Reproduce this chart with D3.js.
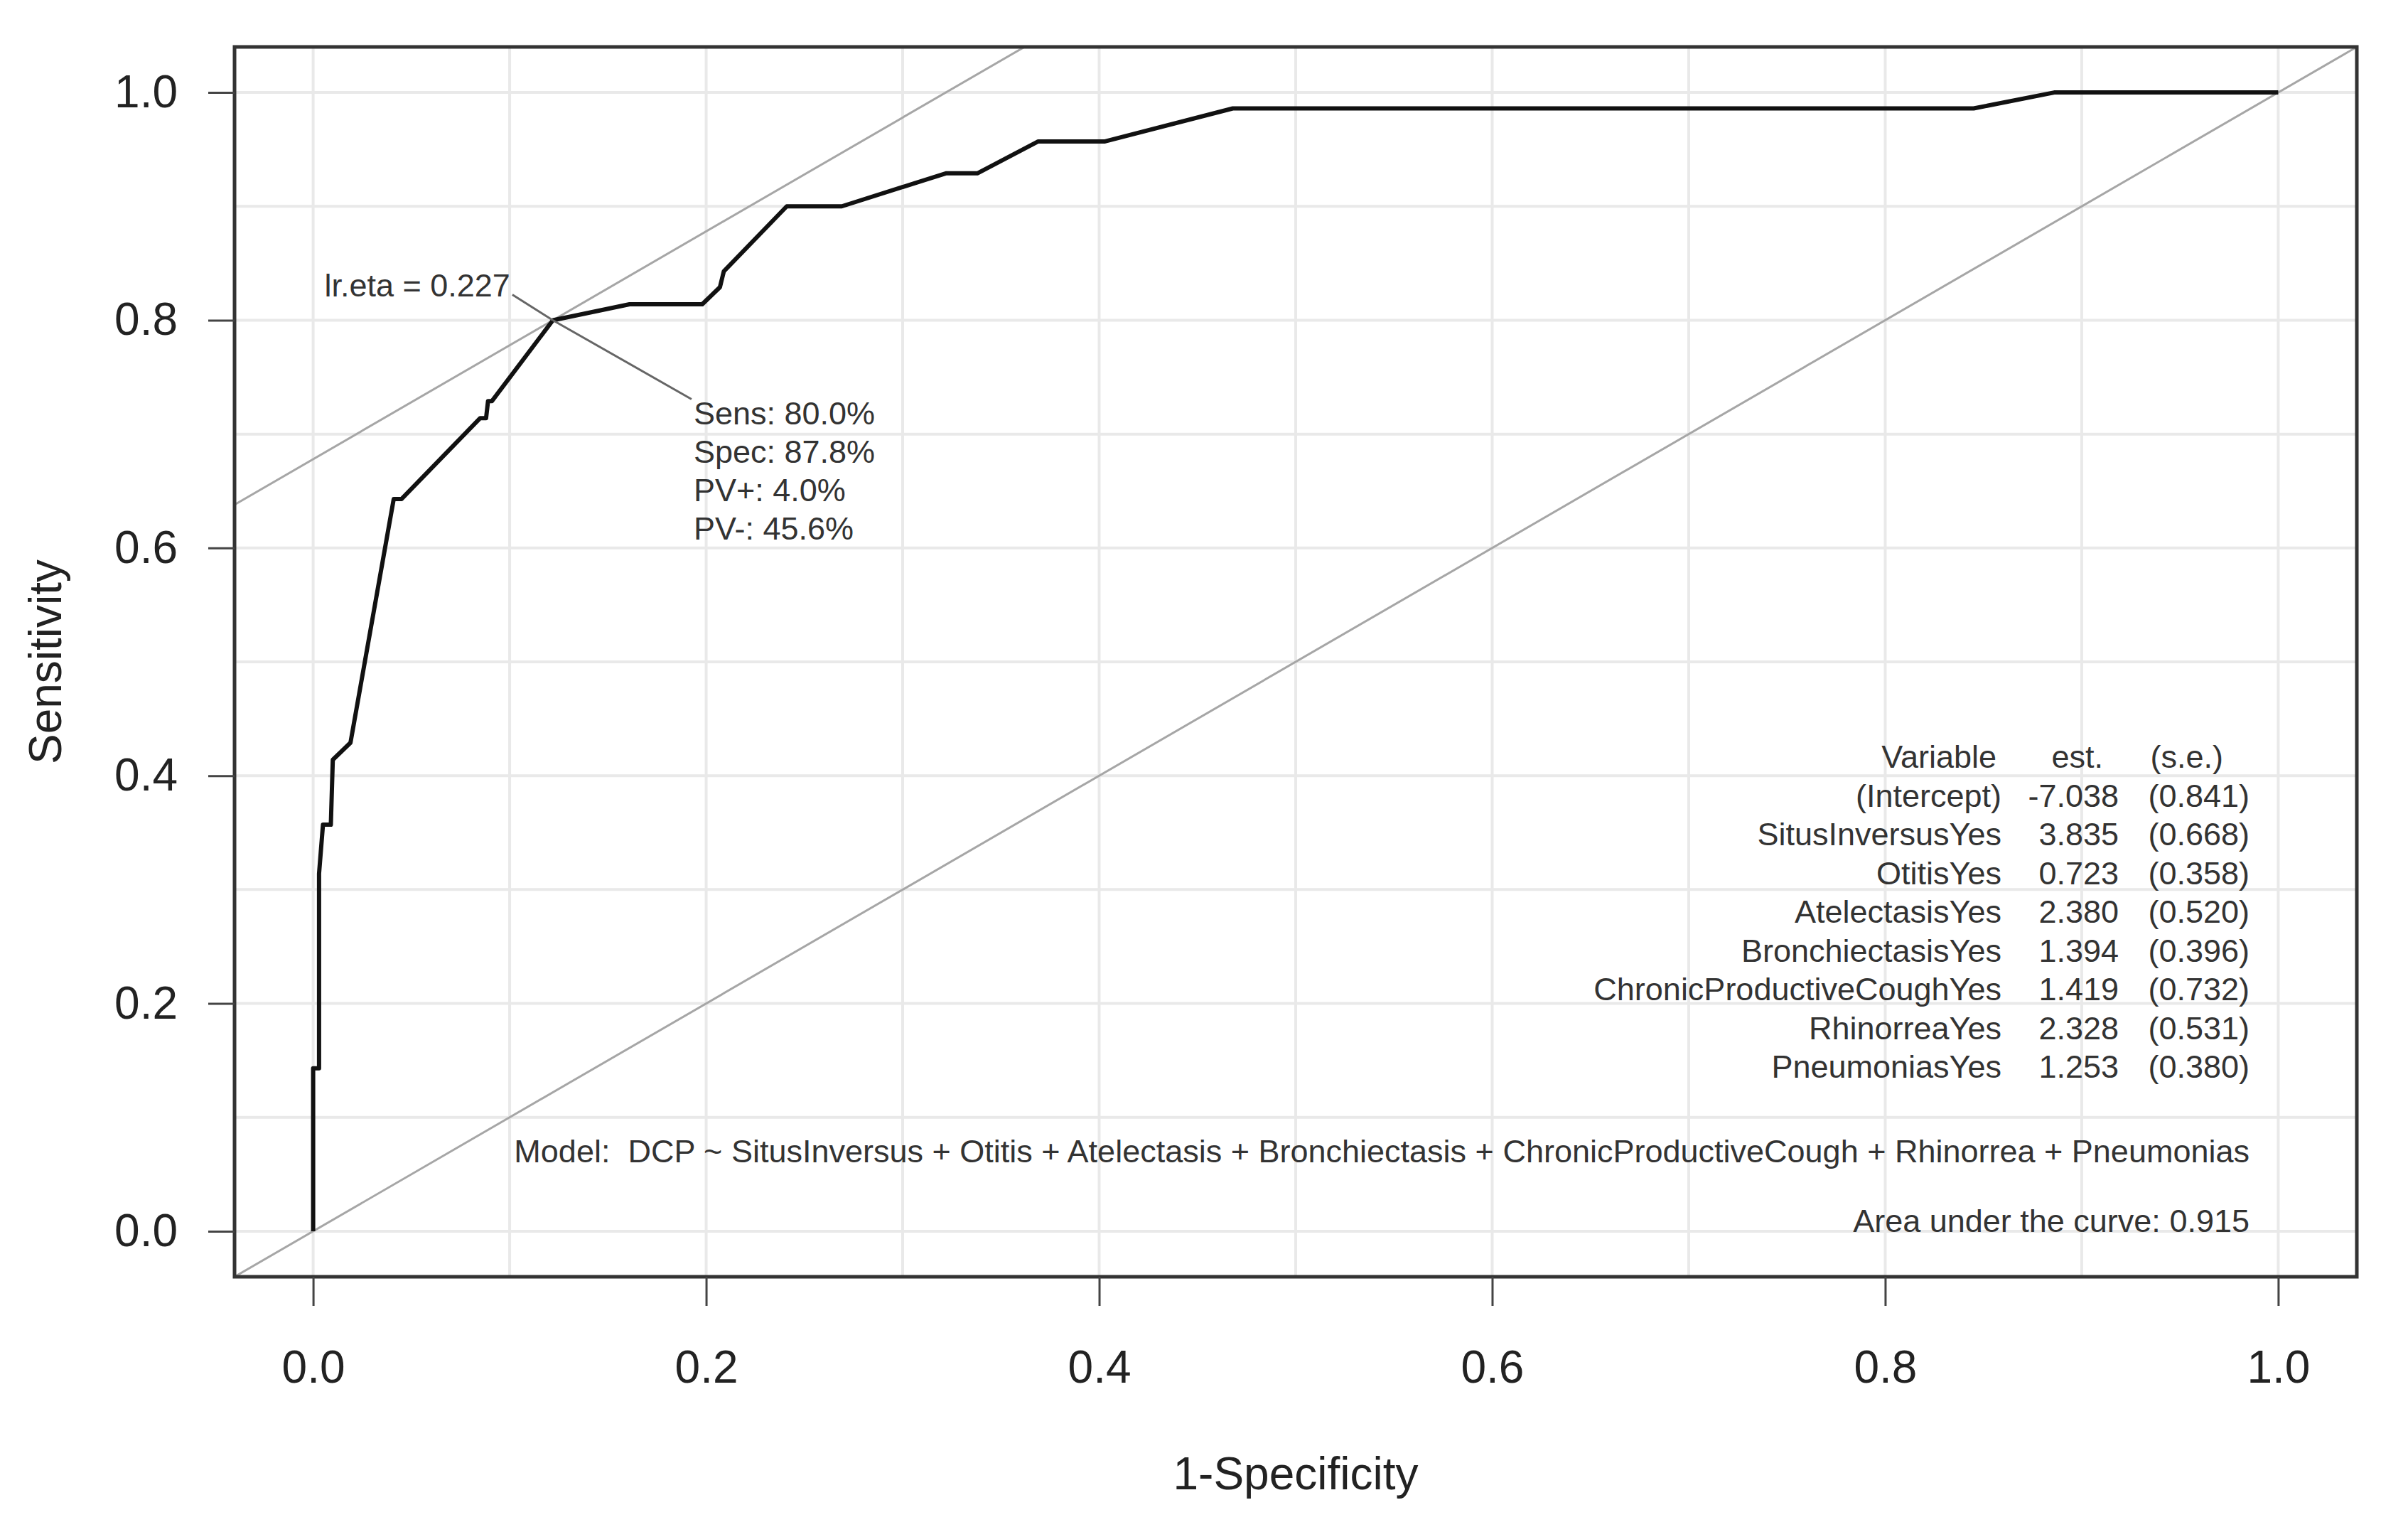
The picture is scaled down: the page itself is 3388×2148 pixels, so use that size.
<!DOCTYPE html>
<html>
<head>
<meta charset="utf-8">
<script src="https://cdn.jsdelivr.net/npm/d3@7"></script>
<style>
  body { margin: 0; background: #fff; }
  text { font-family: "Liberation Sans", Arial, Helvetica, sans-serif; }
</style>
</head>
<body>
<svg id="chart" width="3388" height="2148"></svg>
<script>
// ROC curve (1-specificity, sensitivity)
const fpr  = [0, 0, 0.003, 0.003, 0.005, 0.009, 0.010, 0.019, 0.041, 0.045, 0.085, 0.088, 0.089, 0.091, 0.122, 0.161, 0.198, 0.207, 0.209, 0.241, 0.269, 0.322, 0.338, 0.369, 0.403, 0.468, 0.845, 0.886, 1.000]
const sens = [0, 0.143, 0.143, 0.314, 0.357, 0.357, 0.414, 0.429, 0.643, 0.643, 0.714, 0.714, 0.729, 0.729, 0.800, 0.814, 0.814, 0.829, 0.843, 0.900, 0.900, 0.929, 0.929, 0.957, 0.957, 0.986, 0.986, 1.000, 1.000]

const xTicks = [0, 0.2, 0.4, 0.6, 0.8, 1.0]
const yTicks = [0, 0.2, 0.4, 0.6, 0.8, 1.0]
const gridVals = [0, 0.1, 0.2, 0.3, 0.4, 0.5, 0.6, 0.7, 0.8, 0.9, 1.0]

// reference lines with slope 1: diagonal and the one through the optimal cut
const refIntercepts = [0, 0.678]

// optimal point and its labels
const optimal = [0.122, 0.800]
const etaLabel = "lr.eta = 0.227"
const statLabels = ["Sens: 80.0%", "Spec: 87.8%", "PV+: 4.0%", "PV-: 45.6%"]

// coefficient table
const varNames = ["(Intercept)", "SitusInversusYes", "OtitisYes", "AtelectasisYes", "BronchiectasisYes", "ChronicProductiveCoughYes", "RhinorreaYes", "PneumoniasYes"]
const estimates = ["-7.038", "3.835", "0.723", "2.380", "1.394", "1.419", "2.328", "1.253"]
const stdErrors = ["(0.841)", "(0.668)", "(0.358)", "(0.520)", "(0.396)", "(0.732)", "(0.531)", "(0.380)"]

const modelText = "Model:  DCP ~ SitusInversus + Otitis + Atelectasis + Bronchiectasis + ChronicProductiveCough + Rhinorrea + Pneumonias"
const aucText = "Area under the curve: 0.915"

const svg = d3.select("#chart")
const boxL = 330, boxR = 3316, boxT = 66, boxB = 1796

var x = d3.scaleLinear().domain([-0.04, 1.04]).range([boxL, boxR])
var y = d3.scaleLinear().domain([-0.04, 1.04]).range([boxB, boxT])

svg.append("clipPath").attr("id", "plotClip")
  .append("rect")
    .attr("x", boxL).attr("y", boxT)
    .attr("width", boxR - boxL).attr("height", boxB - boxT)

// grid
const grid = svg.append("g").attr("stroke", "#e9e9e9").attr("stroke-width", 4)
grid.selectAll(".vgrid")
  .data(gridVals)
  .enter()
  .append("line")
    .attr("x1", d => x(d)).attr("x2", d => x(d))
    .attr("y1", boxT).attr("y2", boxB)
grid.selectAll(".hgrid")
  .data(gridVals)
  .enter()
  .append("line")
    .attr("y1", d => y(d)).attr("y2", d => y(d))
    .attr("x1", boxL).attr("x2", boxR)

// slope-1 reference lines, clipped to the box
const plot = svg.append("g").attr("clip-path", "url(#plotClip)")
const dom = x.domain()
plot.selectAll(".ref")
  .data(refIntercepts)
  .enter()
  .append("line")
    .attr("x1", x(dom[0])).attr("y1", a => y(a + dom[0]))
    .attr("x2", x(dom[1])).attr("y2", a => y(a + dom[1]))
    .attr("stroke", "#a6a6a6")
    .attr("stroke-width", 3)

// leader lines from the optimal point to its labels
const ox = x(optimal[0]), oy = y(optimal[1])
svg.append("line")
  .attr("x1", ox).attr("y1", oy)
  .attr("x2", ox - 57).attr("y2", oy - 36)
  .attr("stroke", "#666").attr("stroke-width", 3)
svg.append("line")
  .attr("x1", ox).attr("y1", oy)
  .attr("x2", ox + 195).attr("y2", oy + 111)
  .attr("stroke", "#666").attr("stroke-width", 3)

// ROC curve
const rocLine = d3.line()
  .x(d => x(d[0]))
  .y(d => y(d[1]))
plot.append("path")
  .datum(fpr.map((f, i) => [f, sens[i]]))
  .attr("d", rocLine)
  .attr("fill", "none")
  .attr("stroke", "#111")
  .attr("stroke-width", 6)
  .attr("stroke-linejoin", "round")

// box
svg.append("rect")
  .attr("x", boxL).attr("y", boxT)
  .attr("width", boxR - boxL).attr("height", boxB - boxT)
  .attr("fill", "none")
  .attr("stroke", "#333")
  .attr("stroke-width", 5)

// axes
const xAxis = svg.append("g")
  .attr("transform", `translate(0, ${boxB})`)
  .call(d3.axisBottom(x).tickValues(xTicks).tickFormat(d3.format(".1f"))
    .tickSizeInner(41).tickSizeOuter(0).tickPadding(63))
const yAxis = svg.append("g")
  .attr("transform", `translate(${boxL}, 0)`)
  .call(d3.axisLeft(y).tickValues(yTicks).tickFormat(d3.format(".1f"))
    .tickSizeInner(37).tickSizeOuter(0).tickPadding(43))
;[xAxis, yAxis].forEach(g => {
  g.select(".domain").remove()
  g.attr("font-size", 64).attr("font-family", null).style("color", "#222")
  g.selectAll(".tick line").attr("stroke-width", 3).attr("stroke", "#444")
})

// axis titles
svg.append("text")
  .attr("x", (boxL + boxR) / 2).attr("y", 2095)
  .attr("text-anchor", "middle")
  .attr("font-size", 64).attr("fill", "#222")
  .text("1-Specificity")
svg.append("text")
  .attr("transform", `translate(86, ${(boxT + boxB) / 2}) rotate(-90)`)
  .attr("text-anchor", "middle")
  .attr("font-size", 64).attr("fill", "#222")
  .text("Sensitivity")

// optimal point labels
const note = svg.append("g").attr("font-size", 45).attr("fill", "#333")
note.append("text")
  .attr("x", ox - 60).attr("y", oy - 33)
  .attr("text-anchor", "end")
  .text(etaLabel)
note.selectAll(".stat")
  .data(statLabels)
  .enter()
  .append("text")
    .attr("x", ox + 198)
    .attr("y", (d, i) => oy + 147 + i * 54)
    .text(d => d)

// coefficient table
const table = svg.append("g").attr("font-size", 45).attr("fill", "#333").attr("text-anchor", "end")
const headY = 1080, rowH = 54.5
table.append("text").attr("x", 2809).attr("y", headY).text("Variable")
table.append("text").attr("x", 2959).attr("y", headY).text("est.")
table.append("text").attr("x", 3128).attr("y", headY).text("(s.e.)")
table.selectAll(".vname")
  .data(varNames)
  .enter()
  .append("text")
    .attr("x", 2816)
    .attr("y", (d, i) => headY + (i + 1) * rowH)
    .text(d => d)
table.selectAll(".vest")
  .data(estimates)
  .enter()
  .append("text")
    .attr("x", 2981)
    .attr("y", (d, i) => headY + (i + 1) * rowH)
    .text(d => d)
table.selectAll(".vse")
  .data(stdErrors)
  .enter()
  .append("text")
    .attr("x", 3165)
    .attr("y", (d, i) => headY + (i + 1) * rowH)
    .text(d => d)

table.append("text")
  .attr("x", 3165).attr("y", 1635)
  .style("white-space", "pre")
  .text(modelText)
table.append("text")
  .attr("x", 3165).attr("y", 1733)
  .text(aucText)
</script>
</body>
</html>
